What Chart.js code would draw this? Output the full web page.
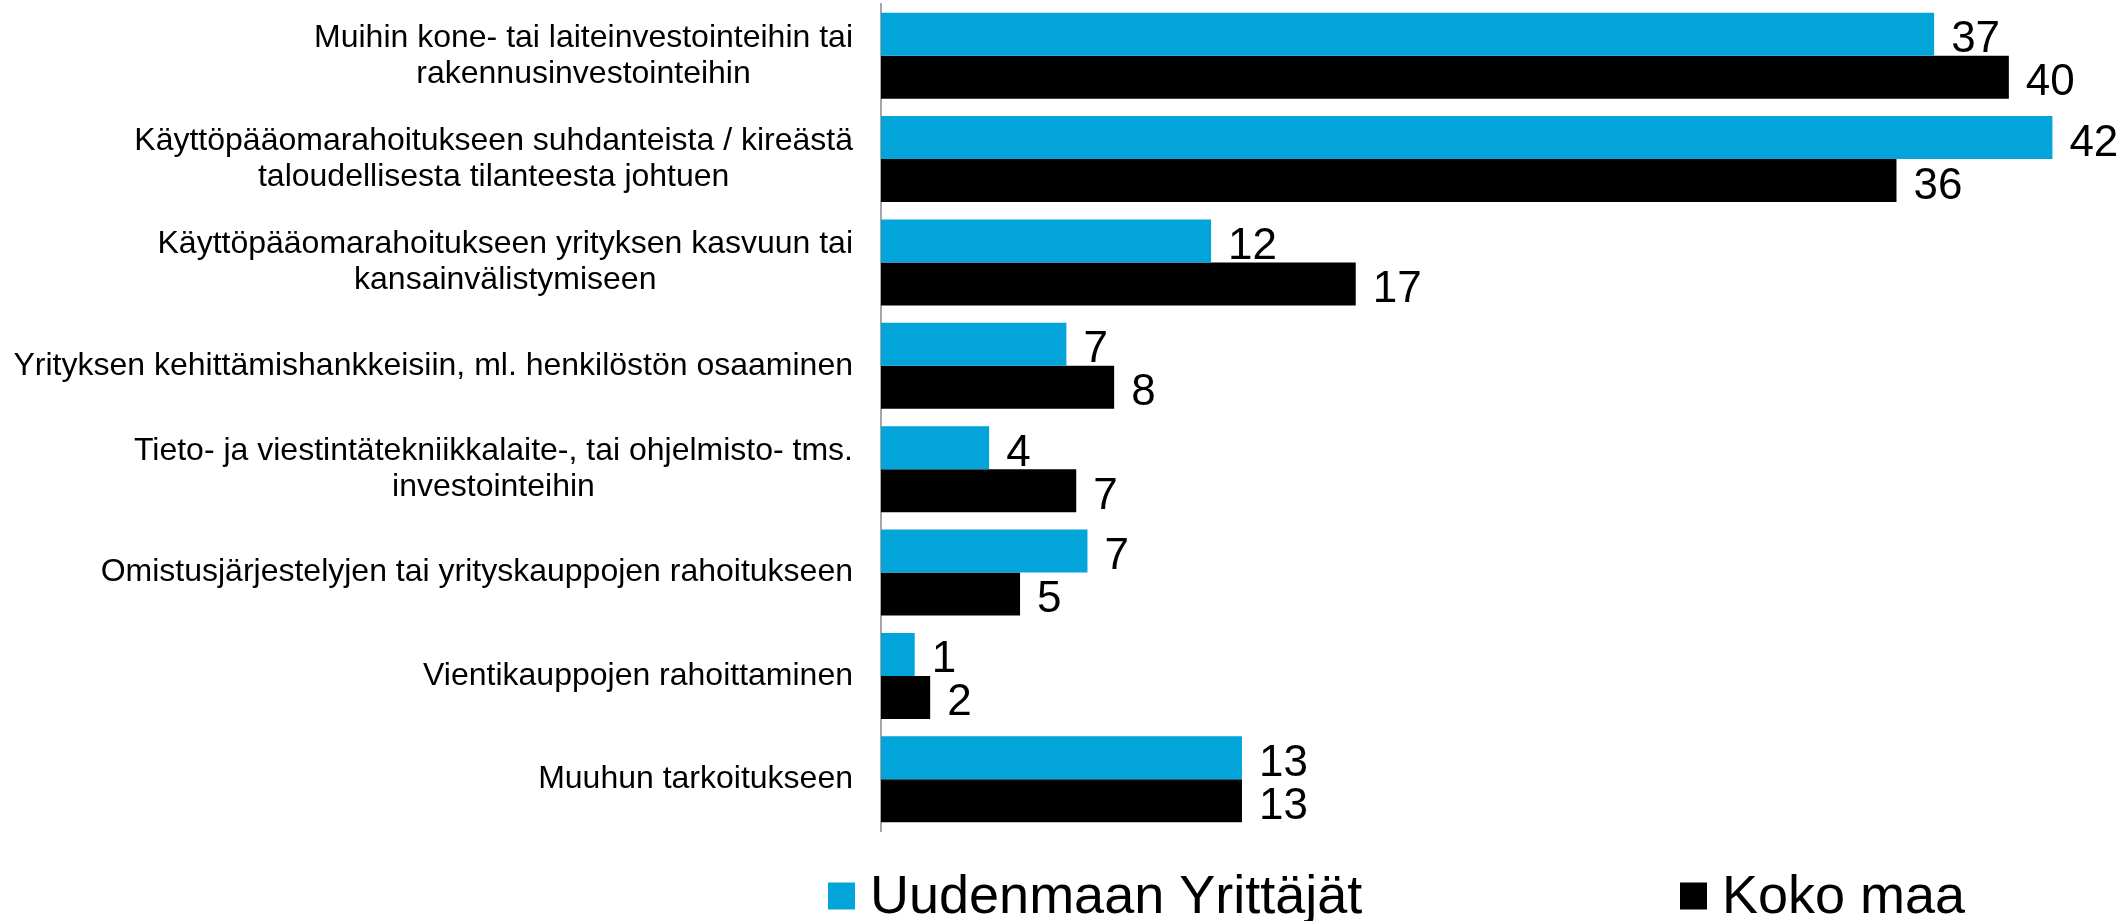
<!DOCTYPE html>
<html>
<head>
<meta charset="utf-8">
<script src="https://cdn.jsdelivr.net/npm/chart.js@4.4.1/dist/chart.umd.min.js"></script>
<style>
  body { margin: 0; background: #fff; }
  #wrap { width: 2126px; height: 921px; position: relative; }
</style>
</head>
<body>
<div id="wrap"><canvas id="chart"></canvas></div>
<script>
// categories (multi-line ones as arrays)
var categories = [
  ["Muihin kone- tai laiteinvestointeihin tai", "rakennusinvestointeihin"],
  ["Käyttöpääomarahoitukseen suhdanteista / kireästä", "taloudellisesta tilanteesta johtuen"],
  ["Käyttöpääomarahoitukseen yrityksen kasvuun tai", "kansainvälistymiseen"],
  ["Yrityksen kehittämishankkeisiin, ml. henkilöstön osaaminen"],
  ["Tieto- ja viestintätekniikkalaite-, tai ohjelmisto- tms.", "investointeihin"],
  ["Omistusjärjestelyjen tai yrityskauppojen rahoitukseen"],
  ["Vientikauppojen rahoittaminen"],
  ["Muuhun tarkoitukseen"]
];

var seriesNames = ["Uudenmaan Yrittäjät", "Koko maa"];
var uudenmaa = [37.49, 41.7, 11.75, 6.6, 3.85, 7.35, 1.2, 12.85];
var kokoMaa = [40.15, 36.15, 16.9, 8.3, 6.95, 4.95, 1.75, 12.85];
var seriesColors = ["#02a4da", "#000000"];

var xMax = 44;

var FONT = "'Liberation Sans', Arial, sans-serif";

// draws y labels: block right aligned, lines centred inside the block
var yLabelPlugin = {
  id: "yLabels",
  afterDraw: function(chart) {
    var ctx = chart.ctx;
    var yScale = chart.scales.y;
    var right = chart.chartArea.left - 28;
    ctx.save();
    ctx.font = "32px " + FONT;
    ctx.fillStyle = "#000";
    ctx.textAlign = "center";
    ctx.textBaseline = "middle";
    categories.forEach(function(lines, i) {
      var cy = yScale.getPixelForValue(i);
      var widest = 0;
      lines.forEach(function(l) { widest = Math.max(widest, ctx.measureText(l).width); });
      var cx = right - widest / 2;
      var lh = 36;
      var y0 = cy - (lines.length - 1) * lh / 2;
      lines.forEach(function(l, j) { ctx.fillText(l, cx, y0 + j * lh); });
    });
    ctx.restore();
  }
};

// value labels at bar ends
var valueLabelPlugin = {
  id: "valueLabels",
  afterDatasetsDraw: function(chart) {
    var ctx = chart.ctx;
    ctx.save();
    ctx.font = "44px " + FONT;
    ctx.fillStyle = "#000";
    ctx.textAlign = "left";
    ctx.textBaseline = "alphabetic";
    chart.data.datasets.forEach(function(ds, di) {
      var meta = chart.getDatasetMeta(di);
      meta.data.forEach(function(bar, i) {
        ctx.fillText(Math.round(ds.data[i]), bar.x + 17, bar.y + 18);
      });
    });
    ctx.restore();
  }
};

// legend under the plot
var legendPlugin = {
  id: "bottomLegend",
  afterDraw: function(chart) {
    var ctx = chart.ctx;
    var xs = [828, 1680];
    var cy = 896;
    ctx.save();
    ctx.font = "54px " + FONT;
    ctx.textAlign = "left";
    ctx.textBaseline = "middle";
    chart.data.datasets.forEach(function(ds, i) {
      ctx.fillStyle = ds.backgroundColor;
      ctx.fillRect(xs[i], cy - 13.5, 27, 27);
      ctx.fillStyle = "#000";
      ctx.fillText(ds.label, xs[i] + 42, cy + 2);
    });
    ctx.restore();
  }
};

new Chart(document.getElementById("chart"), {
  type: "bar",
  data: {
    labels: categories,
    datasets: [
      { label: seriesNames[0], data: uudenmaa, backgroundColor: seriesColors[0] },
      { label: seriesNames[1], data: kokoMaa, backgroundColor: seriesColors[1] }
    ]
  },
  options: {
    indexAxis: "y",
    responsive: true,
    maintainAspectRatio: false,
    animation: false,
    categoryPercentage: 0.832,
    barPercentage: 1.0,
    layout: { padding: { top: 4, bottom: 90, right: 9, left: 0 } },
    plugins: {
      legend: { display: false },
      tooltip: { enabled: false }
    },
    scales: {
      x: {
        display: false,
        min: 0,
        max: xMax
      },
      y: {
        grid: { display: false },
        border: { display: true, color: "#a6a6a6", width: 2 },
        ticks: { display: false },
        afterFit: function(scale) { scale.width = 881; }
      }
    }
  },
  plugins: [yLabelPlugin, valueLabelPlugin, legendPlugin]
});
</script>
</body>
</html>
